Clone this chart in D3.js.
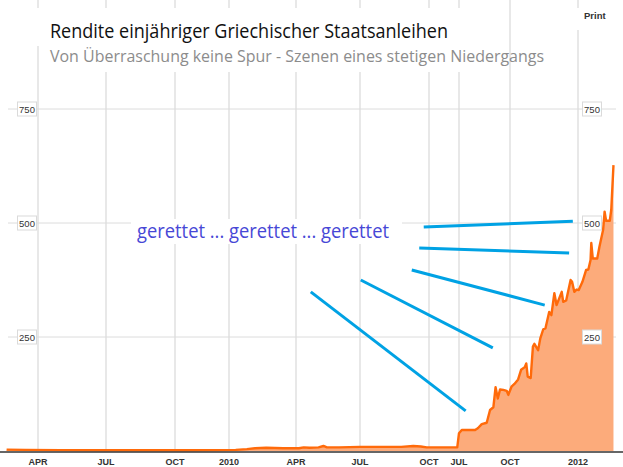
<!DOCTYPE html>
<html>
<head>
<meta charset="utf-8">
<script src="https://cdn.jsdelivr.net/npm/d3@7"></script>
<style>
  html, body { margin: 0; padding: 0; background: #fff; }
  svg { display: block; }
</style>
</head>
<body>
<svg id="chart" width="623" height="467"></svg>
<script>
// ---------- DATA ----------
const titleText = "Rendite einjähriger Griechischer Staatsanleihen";
const subtitleText = "Von Überraschung keine Spur - Szenen eines stetigen Niedergangs";
const noteText = "gerettet ... gerettet ... gerettet";

// first segment (2009 – Nov 2010)
const leftDates = ["2009-02-18","2009-03-15","2009-05-01","2009-07-01","2009-09-01","2009-11-01","2009-12-15",
  "2010-01-10","2010-01-25","2010-02-05","2010-02-20","2010-03-15","2010-04-05","2010-04-12","2010-04-20",
  "2010-05-03","2010-05-10","2010-05-15","2010-06-01","2010-07-01","2010-08-01","2010-08-25","2010-09-10",
  "2010-09-20","2010-09-28","2010-10-15","2010-11-08"];
const leftValues = [3,2.5,2,1.5,1.5,1.5,2, 2.5,4,6,7,6,6,8,7, 8,11,8,8,9,9,9,11, 10,8,8,8];

// second segment (Jul 2011 – Feb 2012)
const rightDates = ["2011-07-01","2011-07-06","2011-07-30","2011-08-04","2011-08-11","2011-08-20","2011-08-26",
  "2011-09-01","2011-09-05","2011-09-09","2011-09-13","2011-09-19","2011-09-25","2011-09-28",
  "2011-10-03","2011-10-07","2011-10-12","2011-10-16","2011-10-21","2011-10-23","2011-10-25","2011-10-29",
  "2011-11-01","2011-11-03","2011-11-08","2011-11-11","2011-11-15","2011-11-18","2011-11-23","2011-11-26",
  "2011-11-30","2011-12-03","2011-12-10","2011-12-12","2011-12-16","2011-12-22","2011-12-24","2011-12-27",
  "2011-12-30","2012-01-02","2012-01-07","2012-01-12","2012-01-15","2012-01-18","2012-01-19","2012-01-21",
  "2012-01-27","2012-01-30","2012-02-04","2012-02-06","2012-02-08","2012-02-13","2012-02-15","2012-02-18"];
const rightValues = [39,46,46,50,59,62,90, 96,140,115,135,134,132,123, 141,147,157,178,184,192,163,160,
  229,235,221,247,267,269,305,298, 346,320,349,327,330,375,371,349, 354,353,371,397,398,419,456,422,
  422,448,485,525,505,505,529,627];

const xTickDates = ["2009-04-01","2009-07-01","2009-10-01","2010-01-01","2010-04-01","2010-07-01","2010-10-01",
  "2011-07-01","2011-10-01","2012-01-01"];
const xTickLabels = ["APR","JUL","OCT","2010","APR","JUL","OCT","JUL","OCT","2012"];
const yTicks = [250, 500, 750];

// annotation arrows: [startDate, startValue, endDate, endValue]
const noteLines = [
  ["2010-04-22", 349, "2011-07-13", 88],
  ["2010-07-02", 375, "2011-08-31", 226],
  ["2010-09-08", 397, "2011-11-17", 320],
  ["2010-09-18", 445, "2011-12-20", 434],
  ["2010-09-24", 491, "2011-12-25", 504]
];

// ---------- SCALES ----------
const P = d3.timeParse("%Y-%m-%d");
// broken (pieced-together) time axis
const x = d3.scaleTime()
  .domain(["2009-04-01","2009-07-01","2009-10-01","2010-01-01","2010-04-01","2010-07-01","2010-10-01",
           "2010-11-09","2011-07-01","2011-10-01","2012-01-01"].map(P))
  .range([38,106,175,229,296,360,429,458,459,510,578]);
const y = d3.scaleLinear().domain([0, 750]).range([451, 109]);

const svg = d3.select("#chart");

// ---------- GRID ----------
const grid = svg.append("g");
grid.selectAll("line.v").data(xTickDates).join("line")
  .attr("x1", d => x(P(d))).attr("x2", d => x(P(d)))
  .attr("y1", 0).attr("y2", 451)
  .attr("stroke", "#e8e8e8").attr("stroke-width", 2);
grid.selectAll("line.h").data(yTicks).join("line")
  .attr("x1", 8).attr("x2", 616)
  .attr("y1", d => y(d)).attr("y2", d => y(d))
  .attr("stroke", "#dcdcdc").attr("stroke-width", 1);

// white boxes behind header texts
svg.append("rect").attr("x", 30).attr("y", 8).attr("width", 470).attr("height", 38).attr("fill", "#fff");
svg.append("rect").attr("x", 44).attr("y", 46).attr("width", 456).attr("height", 26).attr("fill", "#fff");
svg.append("rect").attr("x", 566).attr("y", 8).attr("width", 57).attr("height", 22).attr("fill", "#fff");

// ---------- SERIES ----------
const series = leftDates.map((d, i) => ({ date: P(d), v: leftValues[i] }))
  .concat(rightDates.map((d, i) => ({ date: P(d), v: rightValues[i] })));

svg.append("path").datum(series)
  .attr("fill", "#fcab7b")
  .attr("d", d3.area().x(d => x(d.date)).y0(y(0)).y1(d => y(d.v)));
svg.append("path").datum(series)
  .attr("fill", "none").attr("stroke", "#ff6a0a").attr("stroke-width", 2.4)
  .attr("stroke-linejoin", "round")
  .attr("d", d3.line().x(d => x(d.date)).y(d => y(d.v)));

// baseline
svg.append("line").attr("x1", 0).attr("x2", 623).attr("y1", y(0) + 1).attr("y2", y(0) + 1)
  .attr("stroke", "#333").attr("stroke-width", 1.5);

// ---------- AXES LABELS ----------
svg.append("g").selectAll("text").data(xTickDates).join("text")
  .attr("x", (d) => x(P(d))).attr("y", 465)
  .attr("text-anchor", "middle")
  .attr("font-family", "Liberation Sans, Arial, sans-serif")
  .attr("font-weight", "bold").attr("font-size", 9).attr("fill", "#333")
  .text((d, i) => xTickLabels[i]);

[27, 592].forEach(cx => {
  const g = svg.append("g");
  g.selectAll("rect").data(yTicks).join("rect")
    .attr("x", cx - 9.5).attr("y", d => y(d) - 7).attr("width", 19).attr("height", 14)
    .attr("fill", "#fff").attr("stroke", "#dadada").attr("stroke-width", 1);
  g.selectAll("text").data(yTicks).join("text")
    .attr("x", cx).attr("y", d => y(d) + 3.5)
    .attr("text-anchor", "middle")
    .attr("font-family", "Liberation Sans, Arial, sans-serif")
    .attr("font-size", 9.5).attr("fill", "#333")
    .text(d => d);
});

// ---------- ANNOTATION ----------
svg.append("rect").attr("x", 131).attr("y", 219).attr("width", 271).attr("height", 25).attr("fill", "#fff");
svg.append("text").attr("x", 137).attr("y", 238)
  .attr("font-family", "Open Sans, Noto Sans, sans-serif").attr("font-size", 19.5)
  .attr("fill", "#4747d6")
  .attr("textLength", 252).attr("lengthAdjust", "spacingAndGlyphs")
  .text(noteText);

svg.append("g").selectAll("line").data(noteLines).join("line")
  .attr("x1", d => x(P(d[0]))).attr("y1", d => y(d[1]))
  .attr("x2", d => x(P(d[2]))).attr("y2", d => y(d[3]))
  .attr("stroke", "#00a2e4").attr("stroke-width", 3);

// ---------- TITLES ----------
svg.append("text").attr("x", 50).attr("y", 38)
  .attr("font-family", "Open Sans, Noto Sans, sans-serif").attr("font-size", 20)
  .attr("fill", "#111")
  .attr("textLength", 398).attr("lengthAdjust", "spacingAndGlyphs")
  .text(titleText);
svg.append("text").attr("x", 50).attr("y", 62)
  .attr("font-family", "Open Sans, Noto Sans, sans-serif").attr("font-size", 17)
  .attr("fill", "#8c8c8c")
  .attr("textLength", 494).attr("lengthAdjust", "spacingAndGlyphs")
  .text(subtitleText);
svg.append("text").attr("x", 584).attr("y", 19)
  .attr("font-family", "Liberation Sans, Arial, sans-serif").attr("font-size", 9.5)
  .attr("font-weight", "bold").attr("fill", "#333")
  .text("Print");
</script>
</body>
</html>
